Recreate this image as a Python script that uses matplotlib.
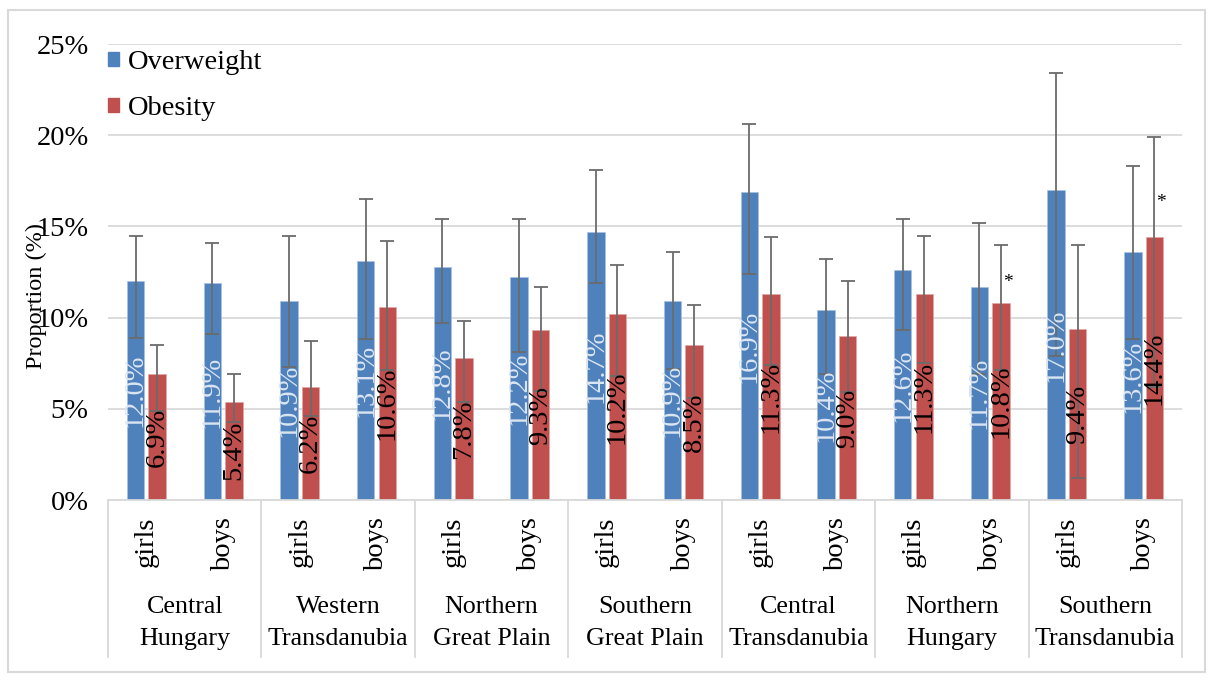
import matplotlib
matplotlib.use("Agg")
import matplotlib.pyplot as plt
import matplotlib.transforms as mtransforms
import numpy as np
from matplotlib.patches import Rectangle, Patch

# Regions of Hungary and sex groups within each region
regions = ["Central\nHungary", "Western\nTransdanubia", "Northern\nGreat Plain",
           "Southern\nGreat Plain", "Central\nTransdanubia", "Northern\nHungary",
           "Southern\nTransdanubia"]
sexes = ["girls", "boys"]

# Prevalence (%) with confidence interval limits, ordered region by region (girls, boys)
overweight = [12.0, 11.9, 10.9, 13.1, 12.8, 12.2, 14.7, 10.9, 16.9, 10.4, 12.6, 11.7, 17.0, 13.6]
overweight_low = [8.9, 9.1, 7.3, 8.8, 9.7, 8.1, 11.9, 7.2, 12.4, 6.9, 9.3, 6.9, 7.9, 8.8]
overweight_high = [14.5, 14.1, 14.5, 16.5, 15.4, 15.4, 18.1, 13.6, 20.6, 13.2, 15.4, 15.2, 23.4, 18.3]

obesity = [6.9, 5.4, 6.2, 10.6, 7.8, 9.3, 10.2, 8.5, 11.3, 9.0, 11.3, 10.8, 9.4, 14.4]
obesity_low = [4.9, 4.3, 4.6, 7.1, 5.4, 6.0, 6.8, 5.6, 7.4, 5.9, 7.5, 7.1, 1.2, 6.2]
obesity_high = [8.5, 6.9, 8.7, 14.2, 9.8, 11.7, 12.9, 10.7, 14.4, 12.0, 14.5, 14.0, 14.0, 19.9]
obesity_significant = [False, False, False, False, False, False, False,
                       False, False, False, False, True, False, True]

y_ticks = [0, 5, 10, 15, 20, 25]

plt.rcParams["font.family"] = ["Liberation Serif", "DejaVu Serif"]

BLUE = "#4f81bd"
RED = "#c0504d"
GRID = "#d9d9d9"
ERR = "#6b6b6b"
FS = 20.5

W, H = 1213, 684
fig = plt.figure(figsize=(W / 100, H / 100), dpi=100)
ax = fig.add_axes([108 / W, 184 / H, 1074 / W, 456 / H])

n = len(regions) * len(sexes)
x = np.arange(n)
width = 0.227
offset = 0.141

bars_ow = ax.bar(x - offset, overweight, width, color=BLUE, edgecolor="#a9c1e0",
                 linewidth=0.5, zorder=2)
bars_ob = ax.bar(x + offset, obesity, width, color=RED, edgecolor="#e0a9a8",
                 linewidth=0.5, zorder=2)

err_kw = dict(fmt="none", ecolor=ERR, elinewidth=1.3, capsize=5, capthick=1.3, zorder=3)
ax.errorbar(x - offset, overweight,
            yerr=[np.subtract(overweight, overweight_low),
                  np.subtract(overweight_high, overweight)], **err_kw)
ax.errorbar(x + offset, obesity,
            yerr=[np.subtract(obesity, obesity_low),
                  np.subtract(obesity_high, obesity)], **err_kw)

for t in ax.bar_label(bars_ow, labels=[f"{v:.1f}%" for v in overweight],
                      label_type="center", rotation=90, color="#dce6f2", fontsize=FS):
    t.set_zorder(4)
for t in ax.bar_label(bars_ob, labels=[f"{v:.1f}%" for v in obesity],
                      label_type="center", rotation=90, color="black", fontsize=FS):
    t.set_zorder(4)

# significance markers beside the obesity bars
for xi, v, hi, sig in zip(x, obesity, obesity_high, obesity_significant):
    if sig:
        ax.text(xi + offset + 0.09, v + 0.35 * (hi - v), "*", ha="center", va="center",
                fontsize=14, zorder=5)

ax.set_ylim(0, 25)
ax.set_yticks(y_ticks)
ax.set_yticklabels([f"{t}%" for t in y_ticks])
ax.tick_params(axis="y", length=0, pad=14, labelsize=FS)
ax.set_xlim(-0.5, n - 0.5)
ax.set_xticks([])
ax.yaxis.grid(True, color=GRID, linewidth=1.3)
ax.set_axisbelow(True)
for side in ("left", "right", "top"):
    ax.spines[side].set_visible(False)
ax.spines["bottom"].set_color(GRID)
ax.spines["bottom"].set_linewidth(1.3)

# two-level category axis
trans = mtransforms.blended_transform_factory(ax.transData, ax.transAxes)
for b in range(0, n + 1, len(sexes)):
    ax.plot([b - 0.5, b - 0.5], [0, -0.344], transform=trans, clip_on=False,
            color=GRID, linewidth=1.3)
for i in range(n):
    ax.text(i, -0.037, sexes[i % len(sexes)], rotation=90, ha="center", va="top",
            transform=trans, fontsize=FS)
for k, name in enumerate(regions):
    ax.text(k * len(sexes) + 0.5, -0.27, name, ha="center", va="center",
            transform=trans, fontsize=18.7, linespacing=1.57)

fig.text(36 / W, 1 - 296 / H, "Proportion (%)", rotation=90, ha="center",
         va="center", fontsize=17.5)

ax.legend(handles=[Patch(color=BLUE, label="Overweight"), Patch(color=RED, label="Obesity")],
          loc="upper left", bbox_to_anchor=(0, 0.987), frameon=False, fontsize=FS,
          handlelength=0.4, handleheight=0.4, handletextpad=0.3,
          labelspacing=0.74, borderpad=0, borderaxespad=0)

fig.patches.append(Rectangle((8 / W, 12 / H), 1197 / W, 662 / H, transform=fig.transFigure,
                             fill=False, edgecolor=GRID, linewidth=1.5))

fig.savefig("out.png", dpi=100)
